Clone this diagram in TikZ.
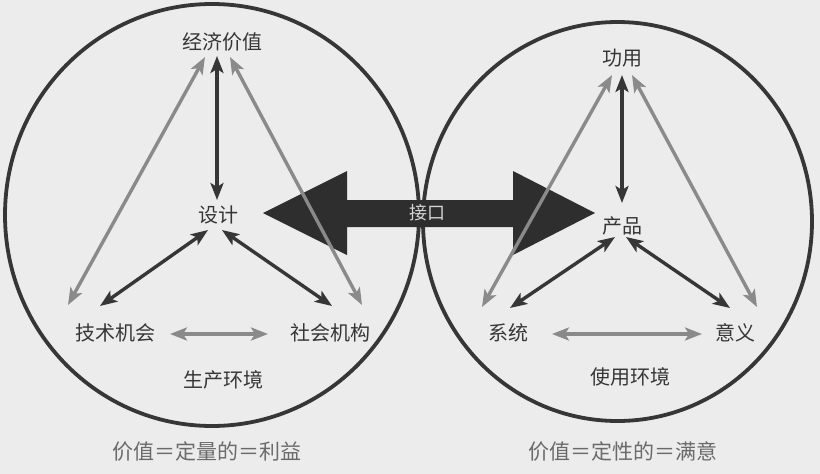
\documentclass[tikz,border=0pt]{standalone}
\usepackage{fontspec}
\setmainfont{Noto Sans CJK SC}
\usetikzlibrary{arrows.meta,calc}
\definecolor{bg}{HTML}{ECECEC}
\definecolor{ink}{HTML}{363636}
\definecolor{dk}{HTML}{363636}
\definecolor{lt}{HTML}{8A8A8A}
\definecolor{big}{HTML}{2E2E2E}
\definecolor{pale}{HTML}{D4D4D4}
\definecolor{subc}{HTML}{6A6A6A}
\begin{document}
\begin{tikzpicture}[x=1pt,y=-1pt,
  lbl/.style={font=\fontsize{20}{22}\selectfont, text=ink, inner sep=1pt},
  sub/.style={font=\fontsize{21}{23}\selectfont, text=subc, inner sep=1pt},
  darr/.style={draw=dk, line width=3.4pt, {Stealth[length=17pt,width=13pt,inset=4pt]}-{Stealth[length=17pt,width=13pt,inset=4pt]}},
  garr/.style={draw=lt, line width=3.4pt, {Stealth[length=17pt,width=13pt,inset=4pt]}-{Stealth[length=17pt,width=13pt,inset=4pt]}},
  ring/.style={draw=ink, line width=3.8pt}]
\fill[bg] (0,0) rectangle (820,474);
\useasboundingbox (0,0) rectangle (820,474);

% circles
\draw[ring] (212,215) ellipse [x radius=207, y radius=211];
\draw[ring] (617.5,221.5) ellipse [x radius=194.5, y radius=199.5];

% big interface arrow
\fill[big] (263,213) -- (347,171) -- (347,200) -- (513,200) -- (513,171) -- (595,213)
  -- (513,255) -- (513,227) -- (347,227) -- (347,255) -- cycle;
\node[font=\fontsize{18}{20}\selectfont, text=pale, inner sep=1pt] (jk) at (427,213) {接口};

% left labels
\node[lbl] (jj) at (222,42) {经济价值};
\node[lbl] (sj) at (218,215) {设计};
\node[lbl] (js) at (115,333) {技术机会};
\node[lbl] (sh) at (330,333) {社会机构};
\node[lbl] (sc) at (223,380) {生产环境};
\node[sub] (lb) at (207,452) {价值＝定量的＝利益};

% right labels
\node[lbl] (gy) at (622,58) {功用};
\node[lbl] (cp) at (622,226) {产品};
\node[lbl] (xt) at (508,333) {系统};
\node[lbl] (yy) at (735,333) {意义};
\node[lbl] (sy) at (630,377) {使用环境};
\node[sub] (rb) at (623,452) {价值＝定性的＝满意};

% left connectors
\draw[darr] ($(jj)+(-5,14)$) -- ($(sj)+(-1,-15)$);
\draw[garr] ($(jj)+(-17,15)$) -- ($(js)+(-47,-28)$);
\draw[garr] ($(jj)+(8,15)$) -- ($(sh)+(32,-28)$);
\draw[darr] ($(sj)+(-10,15)$) -- ($(js)+(-15,-27)$);
\draw[darr] ($(sj)+(4,15)$) -- ($(sh)+(2,-27)$);
\draw[garr] ($(js)+(55,1)$) -- ($(sh)+(-62,1)$);

% right connectors
\draw[darr] ($(gy)+(0,17)$) -- ($(cp)+(0,-23)$);
\draw[garr] ($(gy)+(-10,17)$) -- ($(xt)+(-26,-26)$);
\draw[garr] ($(gy)+(10,17)$) -- ($(yy)+(22,-26)$);
\draw[darr] ($(cp)+(-7,11)$) -- ($(xt)+(2,-25)$);
\draw[darr] ($(cp)+(4,11)$) -- ($(yy)+(-5,-25)$);
\draw[garr] ($(xt)+(44,1)$) -- ($(yy)+(-33,1)$);
\end{tikzpicture}
\end{document}
